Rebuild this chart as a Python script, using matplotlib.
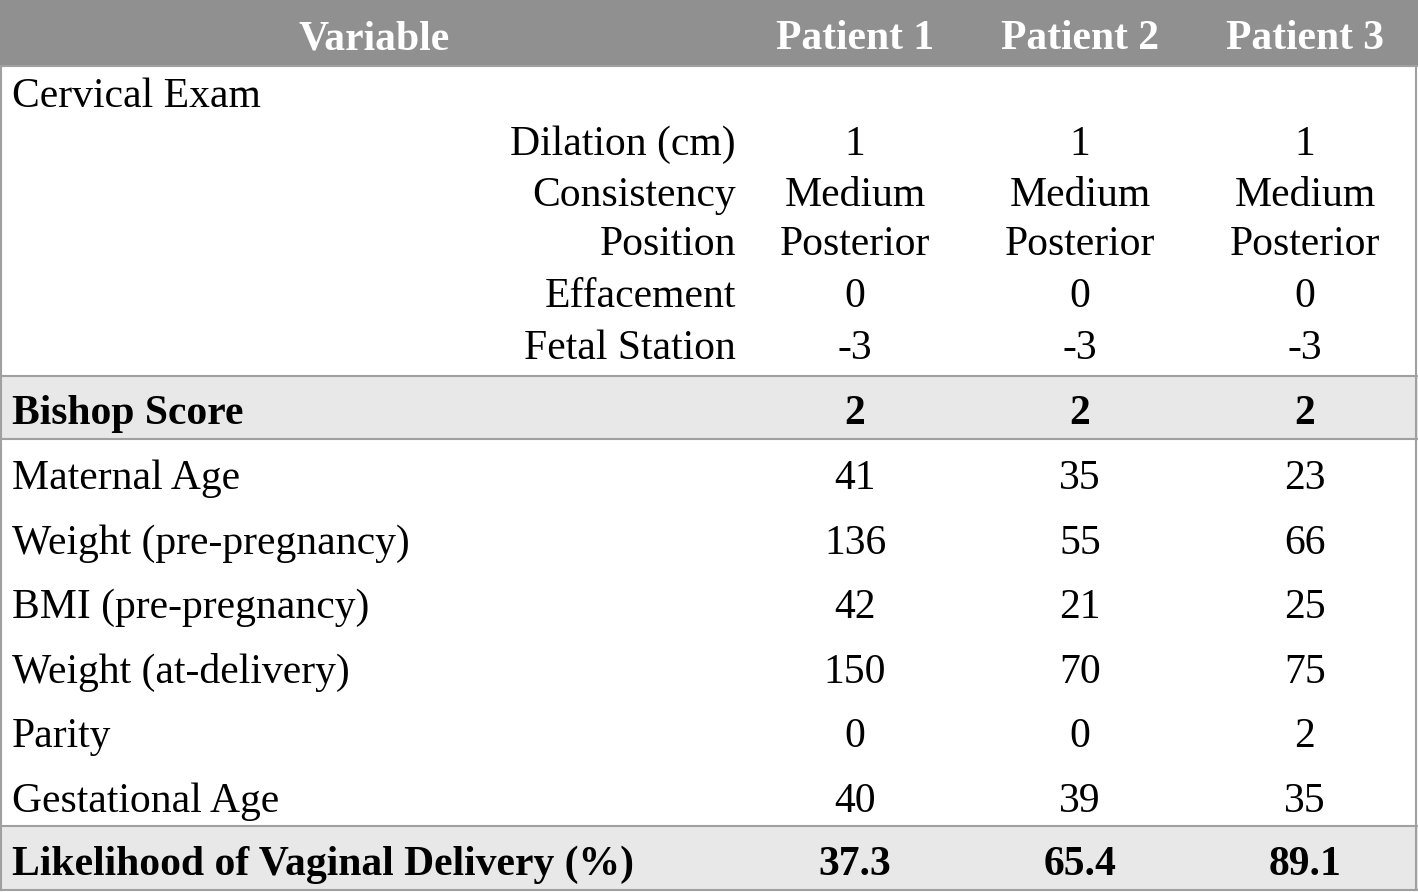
import matplotlib.pyplot as plt
from matplotlib.patches import Rectangle

# table contents
header = ["Variable", "Patient 1", "Patient 2", "Patient 3"]
exam_title = "Cervical Exam"
exam_labels = ["Dilation (cm)", "Consistency", "Position", "Effacement", "Fetal Station"]
exam_values = [
    ["1", "1", "1"],
    ["Medium", "Medium", "Medium"],
    ["Posterior", "Posterior", "Posterior"],
    ["0", "0", "0"],
    ["-3", "-3", "-3"],
]
bishop_label = "Bishop Score"
bishop_values = ["2", "2", "2"]
other_labels = ["Maternal Age", "Weight (pre-pregnancy)", "BMI (pre-pregnancy)",
                "Weight (at-delivery)", "Parity", "Gestational Age"]
other_values = [
    ["41", "35", "23"],
    ["136", "55", "66"],
    ["42", "21", "25"],
    ["150", "70", "75"],
    ["0", "0", "2"],
    ["40", "39", "35"],
]
likelihood_label = "Likelihood of Vaginal Delivery (%)"
likelihood_values = ["37.3", "65.4", "89.1"]

W, H = 1418, 892
fig = plt.figure(figsize=(W / 100, H / 100), dpi=100)
ax = fig.add_axes([0, 0, 1, 1])
ax.set_xlim(0, W)
ax.set_ylim(H, 0)
ax.axis("off")

plt.rcParams['font.family'] = ['Liberation Serif', 'DejaVu Serif']
fs = 30
dy = 3  # nudge text down a bit
line_c = "#a0a0a0"
col_x = [374, 855, 1080, 1305]
label_x = 12
sub_x = 736

# header
ax.add_patch(Rectangle((0, 0), W, 66, color="#909090", lw=0))
for x, t in zip(col_x, header):
    ax.text(x, 36 + dy, t, ha="center", va="center", fontsize=fs, color="white", fontweight="bold")

# cervical exam block
ax.text(label_x, 94 + dy, exam_title, ha="left", va="center", fontsize=fs)
exam_y = [142, 193, 242, 294, 346]
for y, lab, vals in zip(exam_y, exam_labels, exam_values):
    ax.text(sub_x, y + dy, lab, ha="right", va="center", fontsize=fs)
    for x, v in zip(col_x[1:], vals):
        ax.text(x, y + dy, v, ha="center", va="center", fontsize=fs)

# bishop score row
ax.add_patch(Rectangle((0, 376), W, 63, color="#e8e8e8", lw=0))
ax.text(label_x, 411 + dy, bishop_label, ha="left", va="center", fontsize=fs, fontweight="bold")
for x, v in zip(col_x[1:], bishop_values):
    ax.text(x, 411 + dy, v, ha="center", va="center", fontsize=fs, fontweight="bold")

# other variables
row_h = 64.5
for i, (lab, vals) in enumerate(zip(other_labels, other_values)):
    y = 476 + i * row_h + dy
    ax.text(label_x, y, lab, ha="left", va="center", fontsize=fs)
    for x, v in zip(col_x[1:], vals):
        ax.text(x, y, v, ha="center", va="center", fontsize=fs)

# likelihood row
ax.add_patch(Rectangle((0, 826), W, 64, color="#e8e8e8", lw=0))
ax.text(label_x, 862 + dy, likelihood_label, ha="left", va="center", fontsize=fs, fontweight="bold")
for x, v in zip(col_x[1:], likelihood_values):
    ax.text(x, 862 + dy, v, ha="center", va="center", fontsize=fs, fontweight="bold")

# rules and border
for y in [66, 376, 439, 826, 890]:
    ax.plot([0, W], [y, y], color=line_c, lw=1.5)
ax.plot([1, 1], [66, 890], color=line_c, lw=1.5)
ax.plot([W - 2, W - 2], [66, 890], color=line_c, lw=1.5)

fig.savefig("out.png", dpi=100)
